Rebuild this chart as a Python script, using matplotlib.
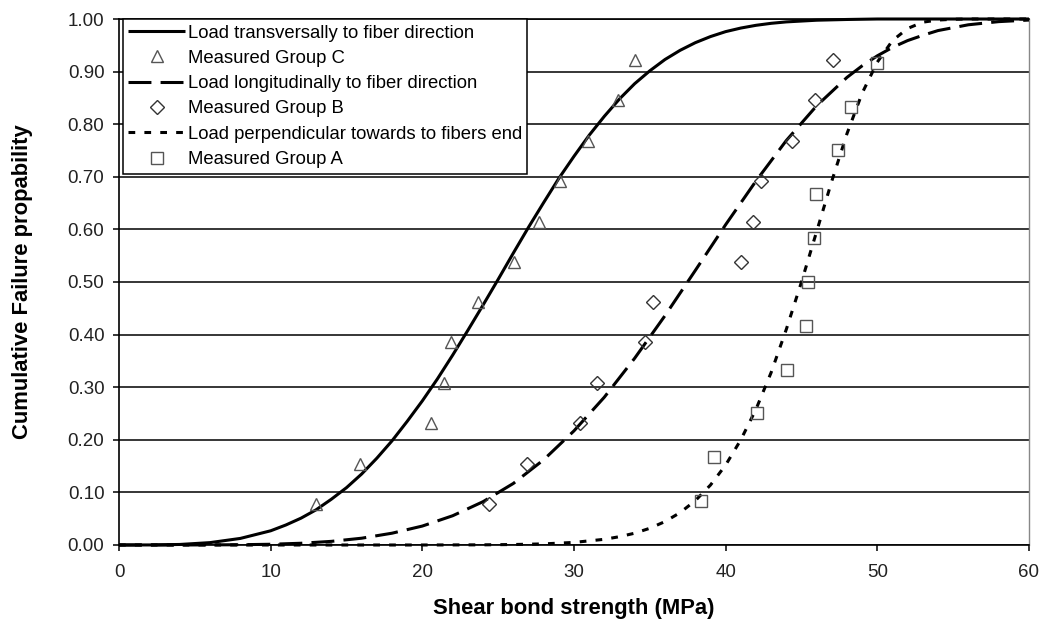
import matplotlib
matplotlib.use("Agg")
import matplotlib.pyplot as plt

plt.rcParams['font.family'] = ['Liberation Sans', 'DejaVu Sans']

# ---- data ----
# Model curves (x in MPa, cumulative failure probability)
trans_x = [0, 2, 4, 6, 8, 10, 11, 12, 13, 14, 15, 16, 17, 18, 19, 20, 21, 22, 23, 24, 25, 26, 27, 28, 29, 30,
           31, 32, 33, 34, 35, 36, 37, 38, 39, 40, 41, 42, 43, 44, 46, 48, 50, 55, 60]
trans_y = [0.0, 0.0001, 0.001, 0.0045, 0.0125, 0.027, 0.038, 0.051, 0.067, 0.087, 0.109, 0.135, 0.165, 0.198,
           0.235, 0.274, 0.316, 0.361, 0.408, 0.456, 0.505, 0.555, 0.604, 0.651, 0.697, 0.739,
           0.779, 0.815, 0.848, 0.877, 0.9015, 0.923, 0.9405, 0.955, 0.9666, 0.976, 0.9828, 0.988, 0.9918, 0.9945,
           0.9977, 0.9991, 1.0, 1.0, 1.0]

long_x = [0, 4, 8, 10, 12, 14, 16, 18, 20, 22, 24, 26, 28, 30, 32, 34, 36, 38, 40, 42, 44, 46, 48, 49, 50, 51,
          52, 53, 54, 56, 58, 60]
long_y = [0.0, 0.0, 0.0005, 0.0014, 0.0033, 0.0069, 0.0129, 0.0224, 0.036, 0.0556, 0.0823, 0.117, 0.162, 0.217,
          0.281, 0.355, 0.436, 0.522, 0.609, 0.692, 0.769, 0.835, 0.889, 0.911, 0.930, 0.946,
          0.959, 0.969, 0.978, 0.989, 0.995, 0.998]

perp_x = [0, 10, 20, 24, 26, 28, 30, 32, 33, 34, 35, 36, 37, 38, 39, 40, 41, 42, 43, 44, 45, 46, 47, 48, 49, 50, 51,
          52, 53, 54, 55, 56, 60]
perp_y = [0.0, 0.0, 0.0, 0.0003, 0.0009, 0.0021, 0.0049, 0.0108, 0.0158, 0.0224, 0.0318, 0.0445, 0.0616, 0.0843, 0.114,
          0.152, 0.200, 0.258, 0.328, 0.410, 0.500, 0.596, 0.692, 0.782, 0.859, 0.918, 0.959, 0.982, 0.994, 0.998,
          0.9995, 1.0, 1.0]

# Measured points
groupC_x = [13.0, 15.9, 20.6, 21.4, 21.9, 23.7, 26.05, 27.7, 29.05, 30.9, 32.9, 34.0]
groupC_y = [0.077, 0.154, 0.231, 0.308, 0.385, 0.462, 0.538, 0.615, 0.692, 0.769, 0.846, 0.923]

groupB_x = [24.4, 26.9, 30.4, 31.5, 34.7, 35.2, 41.0, 41.8, 42.3, 44.4, 45.9, 47.1]
groupB_y = [0.077, 0.154, 0.231, 0.308, 0.385, 0.462, 0.538, 0.615, 0.692, 0.769, 0.846, 0.923]

groupA_x = [38.4, 39.2, 42.1, 44.05, 45.3, 45.4, 45.8, 45.95, 47.4, 48.25, 50.0]
groupA_y = [0.083, 0.167, 0.250, 0.333, 0.417, 0.500, 0.583, 0.667, 0.750, 0.833, 0.917]

x_ticks = [0, 10, 20, 30, 40, 50, 60]
y_ticks = [0.0, 0.1, 0.2, 0.3, 0.4, 0.5, 0.6, 0.7, 0.8, 0.9, 1.0]

labels = ["Load transversally to fiber direction", "Measured Group C",
          "Load longitudinally to fiber direction", "Measured Group B",
          "Load perpendicular towards to fibers end", "Measured Group A"]

# ---- figure ----
fig = plt.figure(figsize=(10.44, 6.21), dpi=100)
ax = fig.add_axes([0.114, 0.1224, 0.8716, 0.847])

for yv in y_ticks:
    ax.axhline(yv, color='black', lw=1.1, zorder=1)

lw = 2.2
l1, = ax.plot(trans_x, trans_y, color='black', lw=lw, solid_capstyle='butt', solid_joinstyle='round',
              zorder=3, clip_on=False)
l2, = ax.plot(long_x, long_y, color='black', lw=lw, dashes=(7.5, 3), zorder=3, clip_on=False)
l3, = ax.plot(perp_x, perp_y, color='black', lw=lw, dashes=(2.2, 3.0), zorder=3, clip_on=False)

mk = dict(linestyle='none', markerfacecolor='none', markeredgewidth=1.0, zorder=4)
m1, = ax.plot(groupC_x, groupC_y, marker='^', markersize=9, markeredgecolor='#555555', **mk)
m2, = ax.plot(groupB_x, groupB_y, marker='D', markersize=6.8, markeredgecolor='#333333', **mk)
m3, = ax.plot(groupA_x, groupA_y, marker='s', markersize=8.5, markeredgecolor='#555555', **mk)

ax.set_xlim(0, 60)
ax.set_ylim(0, 1.0)
ax.set_xticks(x_ticks)
ax.set_yticks(y_ticks)
ax.set_yticklabels([f"{v:.2f}" for v in y_ticks])
ax.tick_params(axis='both', direction='out', length=4.5, width=1.1, labelsize=13.5,
               colors='black', labelcolor='#222222')
ax.tick_params(axis='x', pad=9)
ax.tick_params(axis='y', pad=6)

for s in ['left', 'bottom', 'top']:
    ax.spines[s].set_color('black')
    ax.spines[s].set_linewidth(1.2)
ax.spines['right'].set_color('#888888')
ax.spines['right'].set_linewidth(1.0)

ax.set_xlabel("Shear bond strength (MPa)", fontsize=15.8, fontweight='bold', va='center')
ax.xaxis.set_label_coords(0.5, -0.120)
ax.set_ylabel("Cumulative Failure propability", fontsize=15.8, fontweight='bold', va='center')
ax.yaxis.set_label_coords(-0.1066, 0.5)

handles = [l1, m1, l2, m2, l3, m3]
leg = ax.legend(handles, labels, loc='upper left', bbox_to_anchor=(0.004, 1.0),
                fontsize=13.3, frameon=True, fancybox=False, edgecolor='black',
                framealpha=1.0, handlelength=3.1, handletextpad=0.12,
                labelspacing=0.45, borderpad=0.3, borderaxespad=0.0)
leg.get_frame().set_linewidth(1.1)
leg.set_zorder(10)

fig.savefig("out.png", dpi=100)
